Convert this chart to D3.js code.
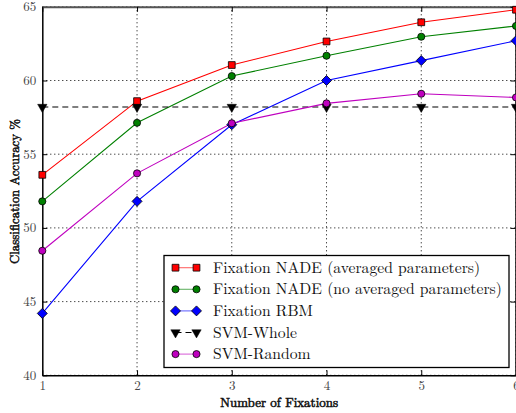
<!DOCTYPE html>
<html><head><meta charset="utf-8">
<script src="https://cdn.jsdelivr.net/npm/d3@7"></script>
<style>body{margin:0;background:#fff}svg{display:block}</style>
</head><body>
<svg id="c" width="516" height="413"></svg>
<script>
const fixations = [1, 2, 3, 4, 5, 6];
const xTicks = [1, 2, 3, 4, 5, 6];
const yTicks = [40, 45, 50, 55, 60, 65];
const nadeAvg = [53.6, 58.6, 61.05, 62.65, 63.95, 64.8];
const nadeNoAvg = [51.8, 57.13, 60.3, 61.68, 62.97, 63.7];
const rbm = [44.2, 51.8, 57.0, 60.0, 61.35, 62.7];
const svmWhole = [58.2, 58.2, 58.2, 58.2, 58.2, 58.2];
const svmRandom = [48.45, 53.7, 57.1, 58.45, 59.1, 58.85];
const seriesNames = ["Fixation NADE (averaged parameters)", "Fixation NADE (no averaged parameters)", "Fixation RBM", "SVM-Whole", "SVM-Random"];

const FONT = "'Latin Modern Roman', 'Liberation Serif', serif";
const series = [
  {name: seriesNames[0], values: nadeAvg, color: "#ff0000", sym: "square", lineColor:"#ff0000"},
  {name: seriesNames[1], values: nadeNoAvg, color: "#008000", sym: "circle", lineColor:"#008000"},
  {name: seriesNames[2], values: rbm, color: "#0000ff", sym: "diamond", lineColor:"#0000ff"},
  {name: seriesNames[3], values: svmWhole, color: "#000000", sym: "tri", lineColor:"#000000", dash: "6,4"},
  {name: seriesNames[4], values: svmRandom, color: "#bf00bf", sym: "circle", lineColor:"#bf00bf"}
];

const svg = d3.select("#c");
const x = d3.scaleLinear().domain([1, 6]).range([42.3, 516]);
const y = d3.scaleLinear().domain([40, 65]).range([375.3, 6.8]);

// grid
const g = svg.append("g");
g.selectAll(".gx").data(xTicks.slice(1)).join("line")
  .attr("x1", d => x(d)).attr("x2", d => x(d)).attr("y1", y(40)).attr("y2", y(65))
  .attr("stroke", "#000").attr("stroke-width", 1).attr("stroke-dasharray", "1,3");
g.selectAll(".gy").data(yTicks).join("line")
  .attr("x1", x(1)).attr("x2", x(6)).attr("y1", d => y(d)).attr("y2", d => y(d))
  .attr("stroke", "#000").attr("stroke-width", 1).attr("stroke-dasharray", "1,3");

// axes
const xAxis = d3.axisBottom(x).tickValues(xTicks).tickFormat(d3.format("d")).tickSizeInner(-5).tickSizeOuter(0).tickPadding(5);
const yAxis = d3.axisLeft(y).tickValues(yTicks).tickFormat(d3.format("d")).tickSizeInner(-5).tickSizeOuter(0).tickPadding(6);
const xTop = d3.axisTop(x).tickValues(xTicks).tickFormat("").tickSizeInner(-5).tickSizeOuter(0);
const yRight = d3.axisRight(y).tickValues(yTicks).tickFormat("").tickSizeInner(-5).tickSizeOuter(0);

const ax = svg.append("g").attr("transform", `translate(0,${y(40)})`).call(xAxis);
const ay = svg.append("g").attr("transform", `translate(${x(1)},0)`).call(yAxis);
const at = svg.append("g").attr("transform", `translate(0,${y(65)})`).call(xTop);
const ar = svg.append("g").attr("transform", `translate(${x(6)-0.5},0)`).call(yRight);
[ax, ay, at, ar].forEach(a => {
  a.select(".domain").attr("stroke", "#000").attr("stroke-width", 1.5);
  a.selectAll(".tick line").attr("stroke", "#000");
  a.selectAll("text").attr("font-size", 13).attr("fill", "#444").style("font-family", FONT);
});
ay.selectAll("text").attr("dy", "0.3em");
at.select(".domain").attr("stroke", "#555").attr("stroke-width", 2);

// lines
const line = d3.line().x((d, i) => x(fixations[i])).y(d => y(d));
function sym(s) {
  if (s === "square") return d3.symbol(d3.symbolSquare, 46)();
  if (s === "circle") return d3.symbol(d3.symbolCircle, 40)();
  if (s === "diamond") return "M0,-5L5,0L0,5L-5,0Z";
  return d3.symbol(d3.symbolTriangle, 38)();
}
const plot = svg.append("g");
series.forEach(s => {
  plot.append("path").datum(s.values).attr("d", line).attr("fill", "none")
    .attr("stroke", s.lineColor).attr("stroke-width", 1.1)
    .attr("stroke-dasharray", s.dash || null);
});
series.forEach(s => {
  plot.selectAll(null).data(s.values).join("path")
    .attr("d", sym(s.sym))
    .attr("transform", (d, i) => `translate(${x(fixations[i])},${y(d)})` + (s.sym === "tri" ? " rotate(180)" : ""))
    .attr("fill", s.color).attr("stroke", "#000").attr("stroke-width", s.sym === "tri" ? 0.5 : 0.8);
});

// legend
const lg = svg.append("g");
lg.append("rect").attr("x", 164).attr("y", 255.5).attr("width", 345).attr("height", 112)
  .attr("fill", "#fff").attr("stroke", "#000").attr("stroke-width", 1.3);
const texts = [];
series.forEach((s, i) => {
  const ly = 267.7 + i * 21.6;
  lg.append("line").attr("x1", 175.5).attr("x2", 196.5).attr("y1", ly).attr("y2", ly)
    .attr("stroke", s.lineColor).attr("stroke-width", 1.1).attr("stroke-opacity", s.sym === "tri" ? 1 : 0.6)
    .attr("stroke-dasharray", s.dash || null);
  [175.5, 196.5].forEach(px => {
    lg.append("path").attr("d", sym(s.sym))
      .attr("transform", `translate(${px},${ly})` + (s.sym === "tri" ? " rotate(180)" : ""))
      .attr("fill", s.color).attr("stroke", "#000").attr("stroke-width", s.sym === "tri" ? 0.5 : 0.8);
  });
  texts.push(lg.append("text").attr("x", 213).attr("y", ly).attr("dy", "0.33em")
    .attr("font-size", 16).attr("fill", "#111").style("font-family", FONT).text(s.name));
});
// fit the legend font so the longest label spans the legend like the reference
const longest = d3.max(texts, t => t.node().getComputedTextLength());
const lfs = 16 * 289 / longest;
texts.forEach(t => t.attr("font-size", lfs));

// titles (faux bold via stroke)
function fitText(t, target, base) {
  const w = t.node().getComputedTextLength();
  t.attr("font-size", base * target / w);
}
const xt = svg.append("text").attr("x", (x(1) + x(6)) / 2).attr("y", 403).attr("dy", "0.33em")
  .attr("text-anchor", "middle").attr("font-size", 12).attr("fill", "#111")
  .attr("stroke", "#111").attr("stroke-width", 0.55)
  .style("font-family", FONT).text("Number of Fixations");
fitText(xt, 118, 12);
const yt = svg.append("text").attr("transform", "translate(15,191.5) rotate(-90)").attr("dy", "0.33em")
  .attr("text-anchor", "middle").attr("font-size", 12).attr("fill", "#111")
  .attr("stroke", "#111").attr("stroke-width", 0.55)
  .style("font-family", FONT).text("Classification Accuracy %");
fitText(yt, 145, 12);
</script>
</body></html>
